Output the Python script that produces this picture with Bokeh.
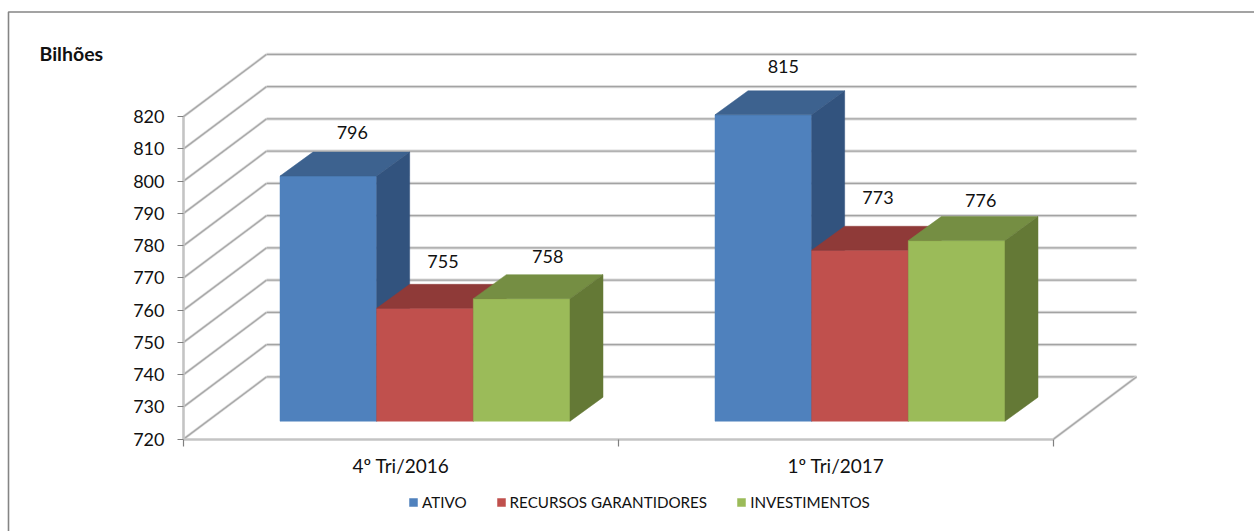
from bokeh.plotting import figure
from bokeh.models import (LinearAxis, FixedTicker, Range1d, Legend, LegendItem, Label,
                          BoxAnnotation, ColumnDataSource)
from bokeh.core.properties import value
from bokeh.embed import file_html
from bokeh.resources import INLINE

# ---- data ----
categories = ["4º Tri/2016", "1º Tri/2017"]
series_names = ["ATIVO", "RECURSOS GARANTIDORES", "INVESTIMENTOS"]
ativo = [796, 815]
recursos = [755, 773]
investimentos = [758, 776]
y_ticks = [720, 730, 740, 750, 760, 770, 780, 790, 800, 810, 820]
y_unit_label = "Bilhões"

# ---- styles ----
front_colors = ["#4F81BD", "#C0504D", "#9BBB59"]
top_colors = ["#3D628F", "#8F3A38", "#758E43"]
side_colors = ["#32537E", "#7F3331", "#647936"]
FONT = "Lato"
TXT = "#111111"

# label nudges in px (dx, dy) per series, per category
label_nudge = [[(24, -44), (20, -48)], [(18, -47), (18, -53)], [(26, -42), (24, -40)]]

# ---- geometry: 3D look as offsets in data units ----
W, H = 1254, 531
PX_X, PX_Y = 435.0, 3.225          # px per category, px per value unit
ORIGIN_X, ORIGIN_Y = 183.0, 438.6  # image px of (0, 720)
DEPTH_X, DEPTH_Y = 83 / PX_X, 62.2 / PX_Y     # full floor depth
GAP_X, GAP_Y = 24 / PX_X, 17.9 / PX_Y         # floor edge to bar front
BAR_DX, BAR_DY = 33 / PX_X, 24 / PX_Y         # bar depth
BAR_W = 1 / 4.5
BASE = 720 + GAP_Y

p = figure(width=W, height=H, output_backend="svg", toolbar_location=None,
           x_range=Range1d((0 - ORIGIN_X) / PX_X, (W - ORIGIN_X) / PX_X),
           y_range=Range1d(720 - (H - ORIGIN_Y) / PX_Y, 720 + ORIGIN_Y / PX_Y),
           x_axis_type=None, y_axis_type=None,
           min_border=0, min_border_left=0, min_border_right=0, min_border_top=0, min_border_bottom=0)
p.grid.visible = False
p.outline_line_color = None
p.background_fill_color = "white"
p.border_fill_color = "white"

# chart frame: left and top only
p.add_layout(BoxAnnotation(left=8, right=W + 20, top=H - 11.5, bottom=-20,
                           left_units="screen", right_units="screen",
                           top_units="screen", bottom_units="screen",
                           fill_alpha=0, line_color="#858585", line_alpha=1, line_width=1.6,
                           level="underlay"))

# walls
n_cat = len(categories)
back_x0 = [DEPTH_X] * len(y_ticks)
back_x1 = [n_cat + DEPTH_X] * len(y_ticks)
back_y = [v + DEPTH_Y for v in y_ticks]
p.segment(back_x0, back_y, back_x1, back_y, line_color="#dedede", line_width=3.2)
p.segment(back_x0, back_y, back_x1, back_y, line_color="#a3a3a3", line_width=1.4)
left_x0 = [0] * len(y_ticks)
p.segment(left_x0, y_ticks, back_x0, back_y, line_color="#e2e2e2", line_width=2.8)
p.segment(left_x0, y_ticks, back_x0, back_y, line_color="#a8a8a8", line_width=1.4)
p.segment([n_cat], [y_ticks[0]], [n_cat + DEPTH_X], [y_ticks[0] + DEPTH_Y], line_color="#e2e2e2", line_width=2.8)
p.segment([n_cat], [y_ticks[0]], [n_cat + DEPTH_X], [y_ticks[0] + DEPTH_Y], line_color="#a8a8a8", line_width=1.4)

# axes inside the full-size frame
y_axis = LinearAxis(ticker=FixedTicker(ticks=y_ticks), fixed_location=0, bounds=(720, 820),
                    axis_line_color="#c4c4c4", axis_line_width=2.6,
                    major_tick_line_color="#808080", major_tick_line_width=1.2,
                    major_tick_out=6, major_tick_in=0, minor_tick_line_color=None,
                    major_label_standoff=13,
                    major_label_text_font=FONT, major_label_text_font_size="18px",
                    major_label_text_color=TXT)
p.add_layout(y_axis, "left")
x_ticks_axis = LinearAxis(ticker=FixedTicker(ticks=[0, 1, 2]), fixed_location=720, bounds=(0, 2),
                          axis_line_color="#c4c4c4", axis_line_width=2.6,
                          major_tick_line_color="#808080", major_tick_line_width=1.2,
                          major_tick_out=7, major_tick_in=0, minor_tick_line_color=None,
                          major_label_text_font_size="0px",
                          major_label_overrides={0: "", 1: "", 2: ""})
p.add_layout(x_ticks_axis, "below")
x_label_axis = LinearAxis(ticker=FixedTicker(ticks=[0.5, 1.5]), fixed_location=720,
                          axis_line_color=None, major_tick_line_color=None, minor_tick_line_color=None,
                          major_tick_out=0, major_tick_in=0, major_label_standoff=15,
                          major_label_overrides={0.5: categories[0], 1.5: categories[1]},
                          major_label_text_font=FONT, major_label_text_font_size="19px",
                          major_label_text_color=TXT)
p.add_layout(x_label_axis, "below")

# bars, back to front in painter's order
all_series = [ativo, recursos, investimentos]
legend_items = []
for i, vals in enumerate(all_series):
    lefts = [c + GAP_X + (1 - 3 * BAR_W) / 2 + i * BAR_W for c in range(n_cat)]
    rights = [l + BAR_W for l in lefts]
    r = p.quad(left=lefts, right=rights, bottom=[BASE] * n_cat, top=[BASE + (v - 720) for v in vals],
               fill_color=front_colors[i], line_color=front_colors[i], line_width=0.5)
    legend_items.append(LegendItem(label=series_names[i], renderers=[r]))
    tops = [BASE + (v - 720) for v in vals]
    p.patches([[l, l + BAR_DX, ri + BAR_DX, ri] for l, ri in zip(lefts, rights)],
              [[t, t + BAR_DY, t + BAR_DY, t] for t in tops],
              fill_color=top_colors[i], line_color=top_colors[i], line_width=0.5)
    p.patches([[ri, ri + BAR_DX, ri + BAR_DX, ri] for ri in rights],
              [[BASE, BASE + BAR_DY, t + BAR_DY, t] for t in tops],
              fill_color=side_colors[i], line_color=side_colors[i], line_width=0.5)

# value labels drawn after all bars
for i, vals in enumerate(all_series):
    lefts = [c + GAP_X + (1 - 3 * BAR_W) / 2 + i * BAR_W for c in range(n_cat)]
    src = ColumnDataSource(dict(
        x=[l + BAR_W / 2 for l in lefts],
        y=[BASE + (v - 720) for v in vals],
        t=[str(v) for v in vals],
        dx=[n[0] for n in label_nudge[i]],
        dy=[n[1] for n in label_nudge[i]],
    ))
    p.text(x="x", y="y", text="t", x_offset="dx", y_offset="dy", source=src,
           text_font=value(FONT), text_font_size=value("18px"), text_color=TXT,
           text_align="center", text_baseline="middle")

# unit label
p.add_layout(Label(x=39, y=H - 53, x_units="screen", y_units="screen", text=y_unit_label,
                   text_font=FONT, text_font_size="19.5px", text_font_style="bold",
                   text_color=TXT, text_baseline="middle"))

# legend
leg = Legend(items=legend_items, orientation="horizontal", location=(408, 20),
             glyph_width=10, glyph_height=10, label_standoff=4, spacing=29,
             margin=0, padding=0, border_line_color=None, background_fill_alpha=0,
             label_text_font=FONT, label_text_font_size="15.2px", label_text_color=TXT)
p.add_layout(leg, "center")

open("out.html", "w").write(file_html(p, INLINE))
